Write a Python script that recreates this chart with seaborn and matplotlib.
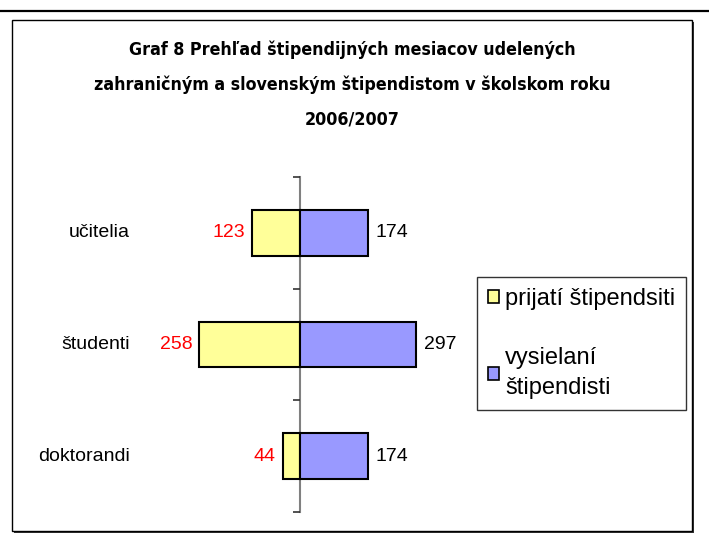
import matplotlib
matplotlib.use("Agg")
import matplotlib.pyplot as plt
import matplotlib.patches as mpatches
import matplotlib.transforms as mtransforms
from matplotlib.lines import Line2D
import seaborn as sns
import pandas as pd

categories = ["učitelia", "študenti", "doktorandi"]
prijati = [123, 258, 44]
vysielani = [174, 297, 174]
series_names = ["prijatí štipendsiti", "vysielaní\nštipendisti"]
title_lines = [
    "Graf 8 Prehľad štipendijných mesiacov udelených",
    "zahraničným a slovenským štipendistom v školskom roku",
    "2006/2007",
]

df = pd.DataFrame({"kategoria": categories,
                   "prijati": [-v for v in prijati],
                   "vysielani": vysielani})

sns.set_style("white")
plt.rcParams["font.family"] = ["Liberation Sans", "DejaVu Sans"]
plt.rcParams["text.color"] = "black"

W, H = 709, 533
fig = plt.figure(figsize=(W / 100, H / 100), dpi=100)

# outer frame with shadow and top rule (behind the axes)
fig.add_artist(Line2D([0, 1], [1 - 11 / H, 1 - 11 / H], color="black", lw=1.6))
fig.add_artist(mpatches.Rectangle((14 / W, 1 - 533 / H), 680 / W, 511 / H,
                                  facecolor="#333333", edgecolor="none", zorder=-3))
fig.add_artist(mpatches.Rectangle((12 / W, 1 - 531 / H), 680 / W, 511 / H,
                                  facecolor="white", edgecolor="black", lw=1.0,
                                  zorder=-2))

# title
for i, line in enumerate(title_lines):
    fig.text(352 / W, 1 - (50 + 35 * i) / H, line, ha="center", va="center",
             fontsize=12.8, fontweight="bold", fontstretch="condensed",
             family=["DejaVu Sans"], color="black")

ax = fig.add_axes([140 / W, 1 - 512 / H, 320 / W, 335 / H])
ax.set_zorder(1)
ax.patch.set_alpha(0)

sns.barplot(data=df, y="kategoria", x="prijati", color="#FFFF99", orient="h",
            width=0.41, edgecolor="black", linewidth=1.5, ax=ax, saturation=1)
sns.barplot(data=df, y="kategoria", x="vysielani", color="#9999FF", orient="h",
            width=0.41, edgecolor="black", linewidth=1.5, ax=ax, saturation=1)

ax.bar_label(ax.containers[0], labels=[str(v) for v in prijati], padding=5,
             color="#FF0000", fontsize=14)
ax.bar_label(ax.containers[1], labels=[str(v) for v in vysielani], padding=5.5,
             color="black", fontsize=14)

ax.set_xlim(-410, 410)
ax.set_ylim(2.5, -0.5)
ax.set_xlabel("")
ax.set_ylabel("")
ax.set_xticks([])
for s in ["top", "right", "bottom"]:
    ax.spines[s].set_visible(False)
ax.spines["left"].set_position(("data", 0))
ax.spines["left"].set_color("#808080")
ax.spines["left"].set_linewidth(1.5)
ax.spines["left"].set_zorder(0.5)
ax.set_yticks([-0.5, 0.5, 1.5, 2.5])
ax.set_yticklabels([])
ax.tick_params(axis="y", left=True, length=5, width=1.2, color="#333333",
               direction="out")

trans = mtransforms.blended_transform_factory(ax.transAxes, ax.transData)
for i, c in enumerate(categories):
    ax.text(-0.031, i, c, transform=trans, ha="right", va="center", fontsize=14)

handles = [mpatches.Patch(facecolor="#FFFF99", edgecolor="black", lw=1.2),
           mpatches.Patch(facecolor="#9999FF", edgecolor="black", lw=1.2)]
leg = fig.legend(handles, series_names, loc="upper left",
                 bbox_to_anchor=(477 / W, 1 - 277 / H),
                 prop={"family": "Liberation Sans", "size": 17},
                 frameon=True, fancybox=False, edgecolor="black",
                 handlelength=0.5, handleheight=0.5, handletextpad=0.25,
                 labelspacing=1.6, borderpad=0.45, borderaxespad=0)
leg.get_frame().set_linewidth(1.0)
leg.set_zorder(2)
for t in leg.get_texts():
    t.set_linespacing(1.45)

fig.savefig("out.png", dpi=100)
